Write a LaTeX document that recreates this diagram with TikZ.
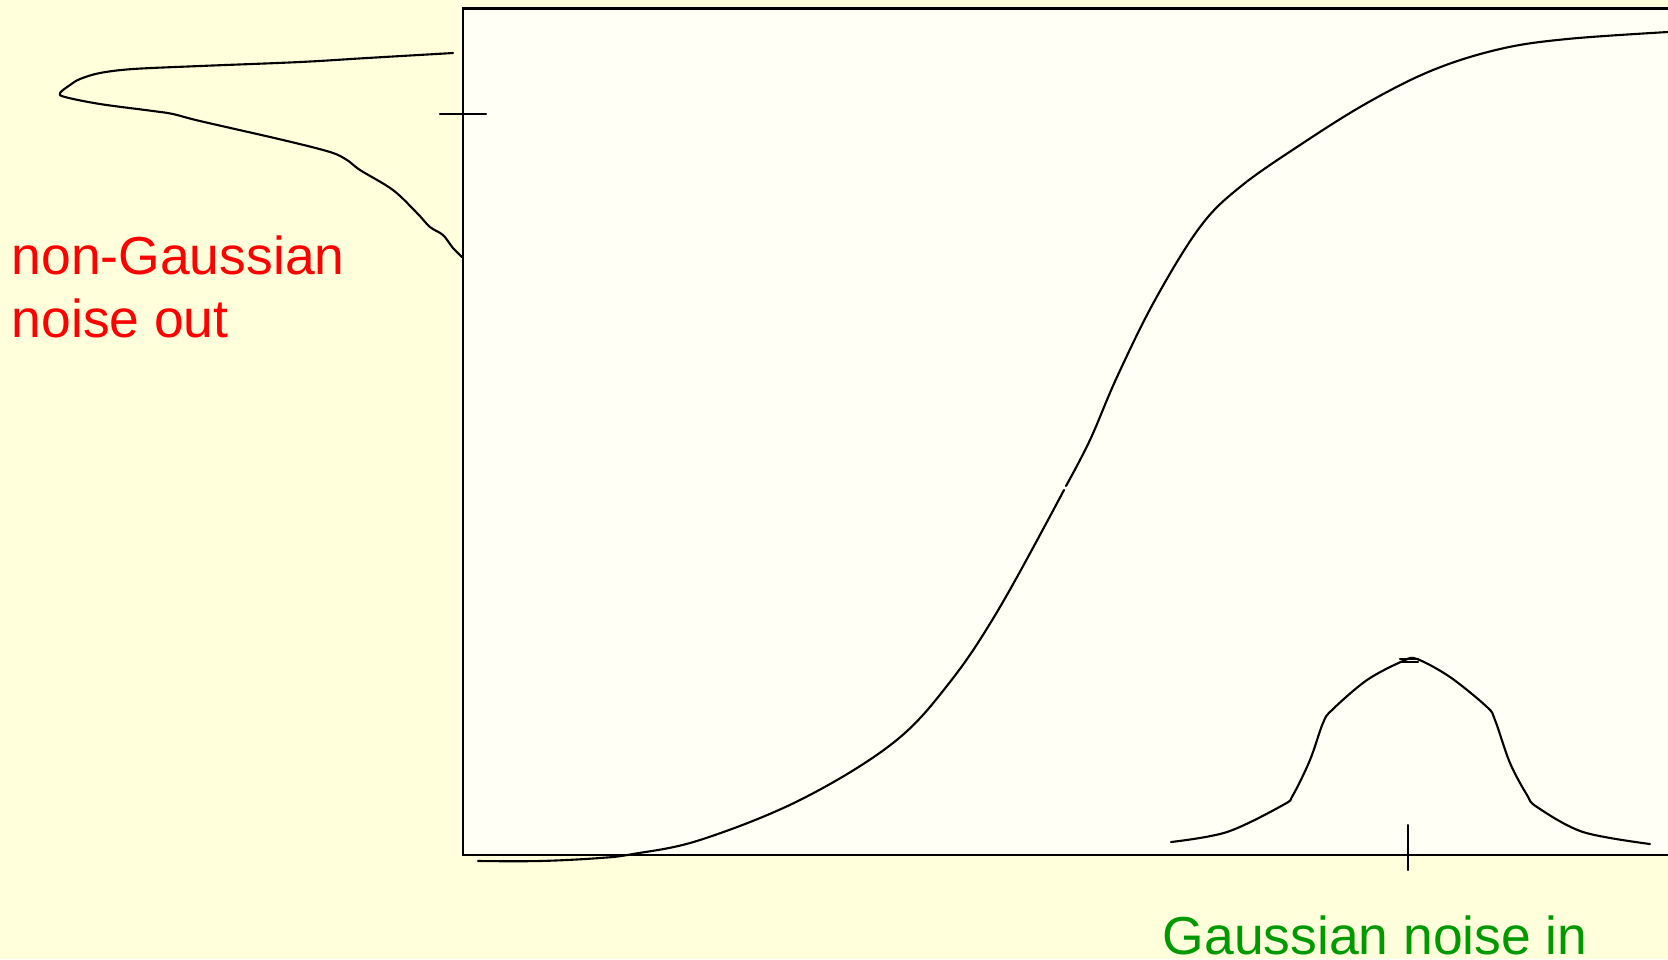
\documentclass[tikz,border=0pt]{standalone}
\usepackage{fontspec}
\setmainfont{Liberation Sans}
\definecolor{outerbg}{HTML}{FFFFDC}
\definecolor{innerbg}{HTML}{FFFFF6}
\definecolor{outred}{HTML}{FF0000}
\definecolor{ingreen}{HTML}{009900}
\tikzset{
  curve/.style={black, line width=0.6pt, line join=round, line cap=round},
  axisline/.style={black, line width=0.7pt},
  lbl/.style={inner sep=0pt, anchor=base west, font=\fontsize{15.2}{18.2}\selectfont},
}
\begin{document}
\begin{tikzpicture}[x=0.01cm, y=-0.01cm]
\useasboundingbox (0,0) rectangle (1668,959);
\clip (0,0) rectangle (1668,959);
\fill[outerbg] (0,0) rectangle (1668,959);
% plot box (extends beyond the right edge)
\draw[axisline, fill=innerbg] (463,8.5) rectangle (1700,855);
% ticks
\draw[curve] (440,114) -- (486,114);
\draw[curve] (1408,825) -- (1408,870);
% sigmoid transfer curve
\draw[curve] plot[smooth, tension=0.6] coordinates {
 (478,861) (540,861) (600,858) (633,854) (700,840) (800,800) (893,743)
 (950,682) (1000,607) (1064,490)};
\draw[curve] plot[smooth, tension=0.6] coordinates {
 (1066,486) (1090,440) (1117,377) (1155,300) (1200,227) (1240,187)
 (1300,145) (1367,103) (1433,70) (1500,49) (1567,39) (1668,32)};
% gaussian input noise
\draw[curve] plot[smooth, tension=0.55] coordinates {
 (1171,842) (1227,832) (1283,805) (1293,795) (1310,760) (1323,723)
 (1332,710) (1367,680) (1403,661) (1417,659) (1450,677) (1487,707)
 (1495,720) (1510,763) (1527,795) (1537,807) (1583,832) (1650,844)};
\draw[curve] (1400,659) -- (1418,659);
\draw[curve] (1401,662) -- (1418,662);
% non-gaussian output noise
\draw[curve] plot[smooth, tension=0.55] coordinates {
 (453,53) (367,58) (300,62) (200,66) (133,69) (100,73) (80,79) (70,85)
 (60,93) (65,97) (100,104) (153,111) (173,114) (200,121) (283,140)
 (330,152) (347,160) (360,170) (393,190) (417,213) (430,227) (443,235)
 (453,248) (462,257)};
% labels
\node[lbl, text=outred] (out1) at (11,274) {non-Gaussian};
\node[lbl, text=outred] (out2) at (11,337) {noise out};
\node[lbl, text=ingreen] (in) at (1162,954) {Gaussian noise in};
\end{tikzpicture}
\end{document}
